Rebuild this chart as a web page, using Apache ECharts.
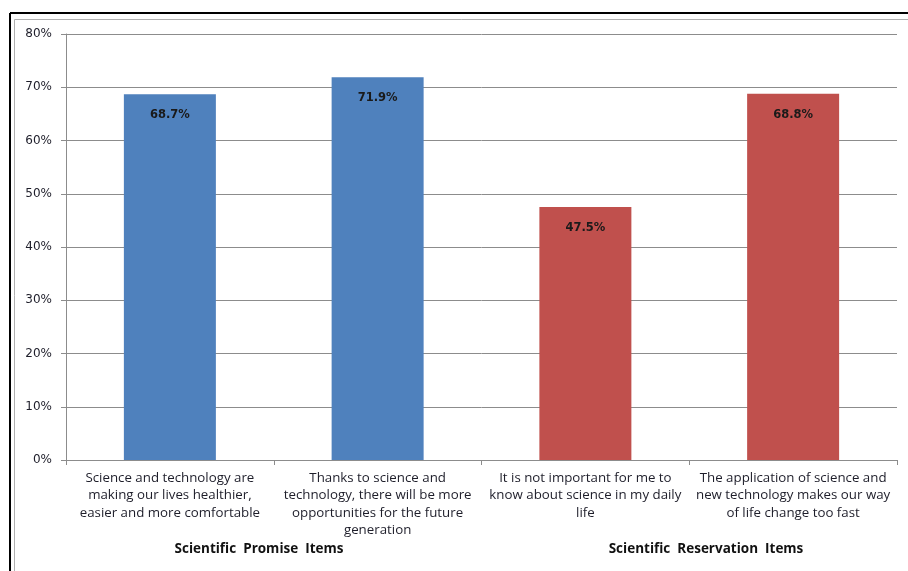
<!DOCTYPE html>
<html>
<head>
<meta charset="utf-8">
<script src="https://cdn.jsdelivr.net/npm/echarts@6/dist/echarts.min.js"></script>
<style>
html,body{margin:0;padding:0;background:#fff;}
#chart{width:908px;height:571px;}
</style>
</head>
<body>
<div id="chart"></div>
<script>
var categories = [
  "Science and technology are\nmaking our lives healthier,\neasier and more comfortable",
  "Thanks to science and\ntechnology, there will be more\nopportunities for the future\ngeneration",
  "It is not important for me to\nknow about science in my daily\nlife",
  "The application of science and\nnew technology makes our way\nof life change too fast"
];
var values = [68.7, 71.9, 47.5, 68.8];
var groups = ["promise", "promise", "reservation", "reservation"];
var groupLabels = ["Scientific  Promise  Items", "Scientific  Reservation  Items"];
var yTicks = [0, 10, 20, 30, 40, 50, 60, 70, 80];

var colors = { promise: "#4F81BD", reservation: "#C0504D" };
var CAT_FONT = "'Open Sans', sans-serif";
var NUM_FONT = "'DejaVu Sans', sans-serif";

var chart = echarts.init(document.getElementById('chart'), null, { renderer: 'canvas' });
chart.setOption({
  animation: false,
  backgroundColor: '#fff',
  grid: { left: 66, right: 11, top: 34, bottom: 111, containLabel: false },
  xAxis: {
    type: 'category',
    data: categories,
    axisLine: { show: true, lineStyle: { color: '#8c8c8c', width: 1 } },
    axisTick: { show: true, alignWithLabel: false, length: 5, lineStyle: { color: '#8c8c8c' } },
    axisLabel: {
      interval: 0, margin: 9, color: '#1e1e2a',
      fontFamily: CAT_FONT, fontSize: 13.3, lineHeight: 17.5
    }
  },
  yAxis: {
    type: 'value',
    min: yTicks[0], max: yTicks[yTicks.length - 1], interval: 10,
    axisLine: { show: true, lineStyle: { color: '#8c8c8c', width: 1 } },
    axisTick: { show: true, length: 5, lineStyle: { color: '#8c8c8c' } },
    splitLine: { show: true, lineStyle: { color: '#8c8c8c', width: 1 } },
    axisLabel: {
      margin: 14, color: '#1e1e2a', fontFamily: NUM_FONT, fontSize: 12,
      formatter: function (v) { return v + '%'; }
    }
  },
  series: [{
    type: 'bar',
    barWidth: 92,
    data: values.map(function (v, i) {
      return { value: v, itemStyle: { color: colors[groups[i]] } };
    }),
    label: {
      show: true, position: 'insideTop', distance: 15,
      fontFamily: NUM_FONT, fontSize: 11.5, fontWeight: 'bold', color: '#1a1a1a',
      formatter: function (p) { return p.value.toFixed(1) + '%'; }
    }
  }],
  graphic: [
    { type: 'line', shape: { x1: 10, y1: 13, x2: 908, y2: 13 }, style: { stroke: '#000', lineWidth: 2 }, z: 100 },
    { type: 'line', shape: { x1: 10, y1: 13, x2: 10, y2: 571 }, style: { stroke: '#000', lineWidth: 2 }, z: 100 },
    { type: 'line', shape: { x1: 14.5, y1: 19.5, x2: 908, y2: 19.5 }, style: { stroke: '#b0b0b0', lineWidth: 1 }, z: 100 },
    { type: 'line', shape: { x1: 14.5, y1: 19.5, x2: 14.5, y2: 571 }, style: { stroke: '#b0b0b0', lineWidth: 1 }, z: 100 },
    { type: 'text', x: 259, y: 549, style: { text: groupLabels[0], x: 0, y: 0, textAlign: 'center', textVerticalAlign: 'middle', font: "bold 13.5px " + CAT_FONT, fill: '#111' } },
    { type: 'text', x: 706, y: 549, style: { text: groupLabels[1], x: 0, y: 0, textAlign: 'center', textVerticalAlign: 'middle', font: "bold 13.5px " + CAT_FONT, fill: '#111' } }
  ]
});
</script>
</body>
</html>
